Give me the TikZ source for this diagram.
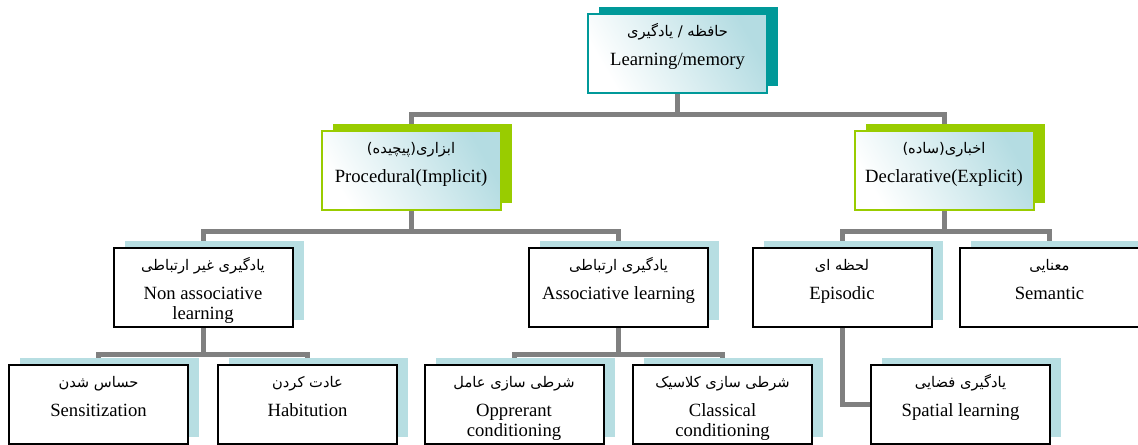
\documentclass[tikz,border=0pt]{standalone}
\usepackage{fontspec}
\setmainfont{Liberation Serif}
\newfontfamily\persfont[Script=Arabic]{DejaVu Sans}
\TeXXeTstate=1
\usepackage{tikz}
\usetikzlibrary{shadows,backgrounds}
\definecolor{tealc}{RGB}{0,153,153}
\definecolor{limec}{RGB}{153,204,0}
\definecolor{paleblue}{RGB}{183,222,226}
\definecolor{shadec}{RGB}{180,220,226}
\definecolor{linegray}{RGB}{128,128,128}
\newcommand{\fatext}[1]{{\persfont\fontsize{11}{12}\selectfont\beginR #1\endR}}
\newcommand{\boxtxt}[2]{\parbox[c][59.25pt][t]{130pt}{\centering\rule{0pt}{17pt}\fatext{#1}\\[6.5pt]#2}}

\tikzset{
	box/.style={draw, line width=1.5pt, minimum width=134.25pt, minimum height=59.25pt,
		inner sep=0pt, font=\fontsize{14}{15}\selectfont},
	topbox/.style={box, draw=tealc, left color=white, right color=shadec, shading angle=120,
		general shadow={fill=tealc, shadow xshift=8.25pt, shadow yshift=5.25pt}},
	midbox/.style={box, draw=limec, left color=white, right color=shadec, shading angle=120,
		general shadow={fill=limec, shadow xshift=8.25pt, shadow yshift=5.25pt}},
	leafbox/.style={box, draw=black, fill=white,
		general shadow={fill=paleblue, shadow xshift=8.25pt, shadow yshift=5.25pt}},
	conn/.style={draw=linegray, line width=3.75pt}
}

\begin{document}
\begin{tikzpicture}[x=0.75pt,y=-0.75pt]
\useasboundingbox (0,0) rectangle (1138,444)					;

%%%%------------Hafeze----------------%%
\node [topbox] (mem) at (677.5,53.5) {\boxtxt{حافظه / یادگیری}{Learning/memory}}	;

%%%%------------Abzari / Akhbari----------------%%
\node [midbox] (proc) at (411,170.5) {\boxtxt{ابزاری(پیچیده)}{Procedural(Implicit)}}	;
\node [midbox] (decl) at (944,170.5) {\boxtxt{اخباری(ساده)}{Declarative(Explicit)}}	;

%%%%------------Radif 3----------------%%
\node [leafbox] (nonassoc) at (203,287.5) {\boxtxt{یادگیری غیر ارتباطی}{Non associative\\learning}}	;
\node [leafbox] (assoc) at (618.5,287.5) {\boxtxt{یادگیری ارتباطی}{Associative learning}}	;
\node [leafbox] (episod) at (842,287.5) {\boxtxt{لحظه ای}{Episodic}}		;
\node [leafbox] (seman) at (1049.5,287.5) {\boxtxt{معنایی}{Semantic}}		;

%%%%------------Radif 4----------------%%
\node [leafbox] (sens) at (98.5,404.5) {\boxtxt{حساس شدن}{Sensitization}}		;
\node [leafbox] (habit) at (307.5,404.5) {\boxtxt{عادت کردن}{Habitution}}		;
\node [leafbox] (opper) at (514,404.5) {\boxtxt{شرطی سازی عامل}{Opprerant\\conditioning}}	;
\node [leafbox] (class) at (722.5,404.5) {\boxtxt{شرطی سازی کلاسیک}{Classical\\conditioning}}	;
\node [leafbox] (spatial) at (960.5,404.5) {\boxtxt{یادگیری فضایی}{Spatial learning}}	;

%%%-------------Linjer-------------%%%
\begin{scope}[on background layer]
\coordinate (busA) at (677.5,114)								;
\draw [conn] (mem.south) -- (busA)								;
\draw [conn] (proc.north) |- (busA) -| (decl.north)				;
\coordinate (busB) at (411,231)									;
\draw [conn] (proc.south) -- (busB)								;
\draw [conn] (nonassoc.north) |- (busB) -| (assoc.north)		;
\coordinate (busC) at (944,231)									;
\draw [conn] (decl.south) -- (busC)								;
\draw [conn] (episod.north) |- (busC) -| (seman.north)			;
\coordinate (busD) at (203,354)									;
\draw [conn] (nonassoc.south) -- (busD)							;
\draw [conn] (sens.north) |- (busD) -| (habit.north)			;
\coordinate (busE) at (618.5,354)								;
\draw [conn] (assoc.south) -- (busE)							;
\draw [conn] (opper.north) |- (busE) -| (class.north)			;
\draw [conn] (episod.south) |- (spatial.west)					;
\end{scope}

\end{tikzpicture}
\end{document}
